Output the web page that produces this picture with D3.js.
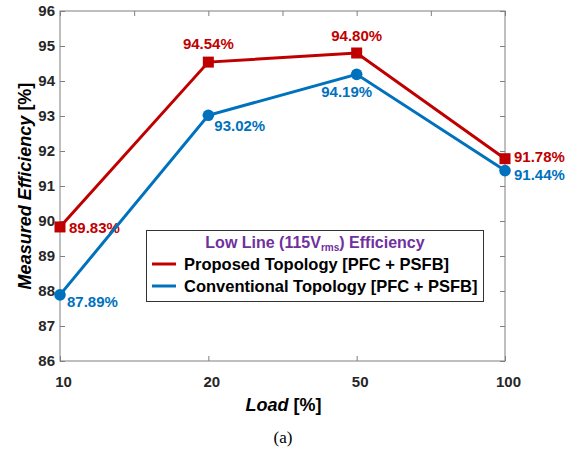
<!DOCTYPE html>
<html>
<head>
<meta charset="utf-8">
<script src="https://cdn.jsdelivr.net/npm/d3@7"></script>
<style>
  body { margin: 0; background: #fff; }
  text { font-family: "Liberation Sans", Arial, sans-serif; }
</style>
</head>
<body>
<svg id="chart"></svg>
<script>
// values
const loads = ["10", "20", "50", "100"];
const proposed = [89.83, 94.54, 94.80, 91.78];
const conventional = [87.89, 93.02, 94.19, 91.44];
const yTicks = [86, 87, 88, 89, 90, 91, 92, 93, 94, 95, 96];
const topTicks = [0, 0.5, 1, 1.5, 2, 2.5, 3];

const width = 575, height = 456;
const margin = {top: 11, right: 70, bottom: 95, left: 60};

const svg = d3.select("#chart").attr("width", width).attr("height", height);

const x = d3.scaleLinear().domain([0, loads.length - 1]).range([margin.left, width - margin.right]);
const y = d3.scaleLinear().domain([86, 96]).range([height - margin.bottom, margin.top]);

const axisColor = "#262626";
const frameColor = "#7f7f7f";

// frame
svg.append("rect")
    .attr("x", x(0)).attr("y", y(96))
    .attr("width", x(3) - x(0)).attr("height", y(86) - y(96))
    .attr("fill", "none").attr("stroke", frameColor).attr("stroke-width", 1);

function styleAxis(g, labels) {
  g.select(".domain").remove();
  g.selectAll(".tick line").attr("stroke", frameColor);
  g.selectAll(".tick text")
      .attr("fill", axisColor)
      .style("font-size", "15px")
      .style("font-weight", "bold")
      .style("display", labels ? null : "none");
}

// bottom axis
svg.append("g")
    .attr("transform", `translate(0,${y(86)})`)
    .call(d3.axisBottom(x).tickValues([0, 1, 2, 3]).tickFormat(i => loads[i]).tickSizeInner(-5).tickPadding(15))
    .call(g => styleAxis(g, true))
    .call(g => g.selectAll(".tick text").attr("dx", 3));

// top axis (ticks only)
svg.append("g")
    .attr("transform", `translate(0,${y(96)})`)
    .call(d3.axisTop(x).tickValues(topTicks).tickSizeInner(-5))
    .call(g => styleAxis(g, false));

// left axis
svg.append("g")
    .attr("transform", `translate(${x(0)},0)`)
    .call(d3.axisLeft(y).tickValues(yTicks).tickFormat(d3.format("d")).tickSizeInner(-5).tickPadding(5))
    .call(g => styleAxis(g, true));

// right axis (ticks only)
svg.append("g")
    .attr("transform", `translate(${x(3)},0)`)
    .call(d3.axisRight(y).tickValues(yTicks).tickSizeInner(-5))
    .call(g => styleAxis(g, false));

// axis titles
const xTitle = svg.append("text")
    .attr("x", (x(0) + x(3)) / 2 + 1).attr("y", 411)
    .attr("text-anchor", "middle")
    .attr("fill", "#000")
    .style("font-size", "18px").style("font-weight", "bold");
xTitle.append("tspan").style("font-style", "italic").text("Load");
xTitle.append("tspan").text(" [%]");

const yTitle = svg.append("text")
    .attr("transform", `translate(31,${(y(86) + y(96)) / 2}) rotate(-90)`)
    .attr("text-anchor", "middle")
    .attr("fill", "#000")
    .style("font-size", "18px").style("font-weight", "bold");
yTitle.append("tspan").style("font-style", "italic").text("Measured Efficiency");
yTitle.append("tspan").text(" [%]");

// caption
svg.append("text")
    .attr("x", 283).attr("y", 443)
    .attr("text-anchor", "middle")
    .style("font-family", "'Liberation Serif', 'Times New Roman', serif")
    .style("font-size", "17px")
    .text("(a)");

// series
const series = [
  {name: "Proposed Topology [PFC + PSFB]", values: proposed, color: "#c00000", marker: "square",
   offsets: [[9, 6, "start"], [0, -13, "middle"], [0, -12, "middle"], [9, 3, "start"]]},
  {name: "Conventional Topology [PFC + PSFB]", values: conventional, color: "#0072bd", marker: "circle",
   offsets: [[7, 12, "start"], [6, 16, "start"], [-10, 23, "middle"], [9, 9, "start"]]}
];

const line = d3.line().x((d, i) => x(i)).y(d => y(d));

series.forEach(s => {
  const g = svg.append("g");
  g.append("path")
      .datum(s.values)
      .attr("d", line)
      .attr("fill", "none")
      .attr("stroke", s.color)
      .attr("stroke-width", 3);

  if (s.marker === "square") {
    g.selectAll("rect").data(s.values).join("rect")
        .attr("x", (d, i) => x(i) - 5.5).attr("y", d => y(d) - 5.5)
        .attr("width", 11).attr("height", 11)
        .attr("fill", s.color);
  } else {
    g.selectAll("circle").data(s.values).join("circle")
        .attr("cx", (d, i) => x(i)).attr("cy", d => y(d))
        .attr("r", 5.8)
        .attr("fill", s.color);
  }

  g.selectAll("text").data(s.values).join("text")
      .attr("x", (d, i) => x(i) + s.offsets[i][0])
      .attr("y", d => y(d))
      .attr("dy", (d, i) => s.offsets[i][1])
      .attr("text-anchor", (d, i) => s.offsets[i][2])
      .attr("fill", s.color)
      .style("font-size", "15px").style("font-weight", "bold")
      .text(d => d.toFixed(2) + "%");
});

// legend
const legend = svg.append("g");
legend.append("rect")
    .attr("x", 146.5).attr("y", 230.5).attr("width", 337).attr("height", 71)
    .attr("fill", "#fff").attr("stroke", "#333").attr("stroke-width", 1);

const lt = legend.append("text")
    .attr("x", 315).attr("y", 248)
    .attr("text-anchor", "middle")
    .attr("fill", "#7030a0")
    .style("font-size", "16px").style("font-weight", "bold");
lt.append("tspan").text("Low Line (115V");
lt.append("tspan").attr("dy", 3).style("font-size", "10px").text("rms");
lt.append("tspan").attr("dy", -3).text(") Efficiency");

series.forEach((s, i) => {
  const ly = 264 + i * 22;
  legend.append("line")
      .attr("x1", 152).attr("x2", 176).attr("y1", ly).attr("y2", ly)
      .attr("stroke", s.color).attr("stroke-width", 3);
  legend.append("text")
      .attr("x", 184).attr("y", ly + 6)
      .attr("fill", "#000")
      .style("font-size", "16.5px").style("font-weight", "bold")
      .text(s.name);
});
</script>
</body>
</html>
